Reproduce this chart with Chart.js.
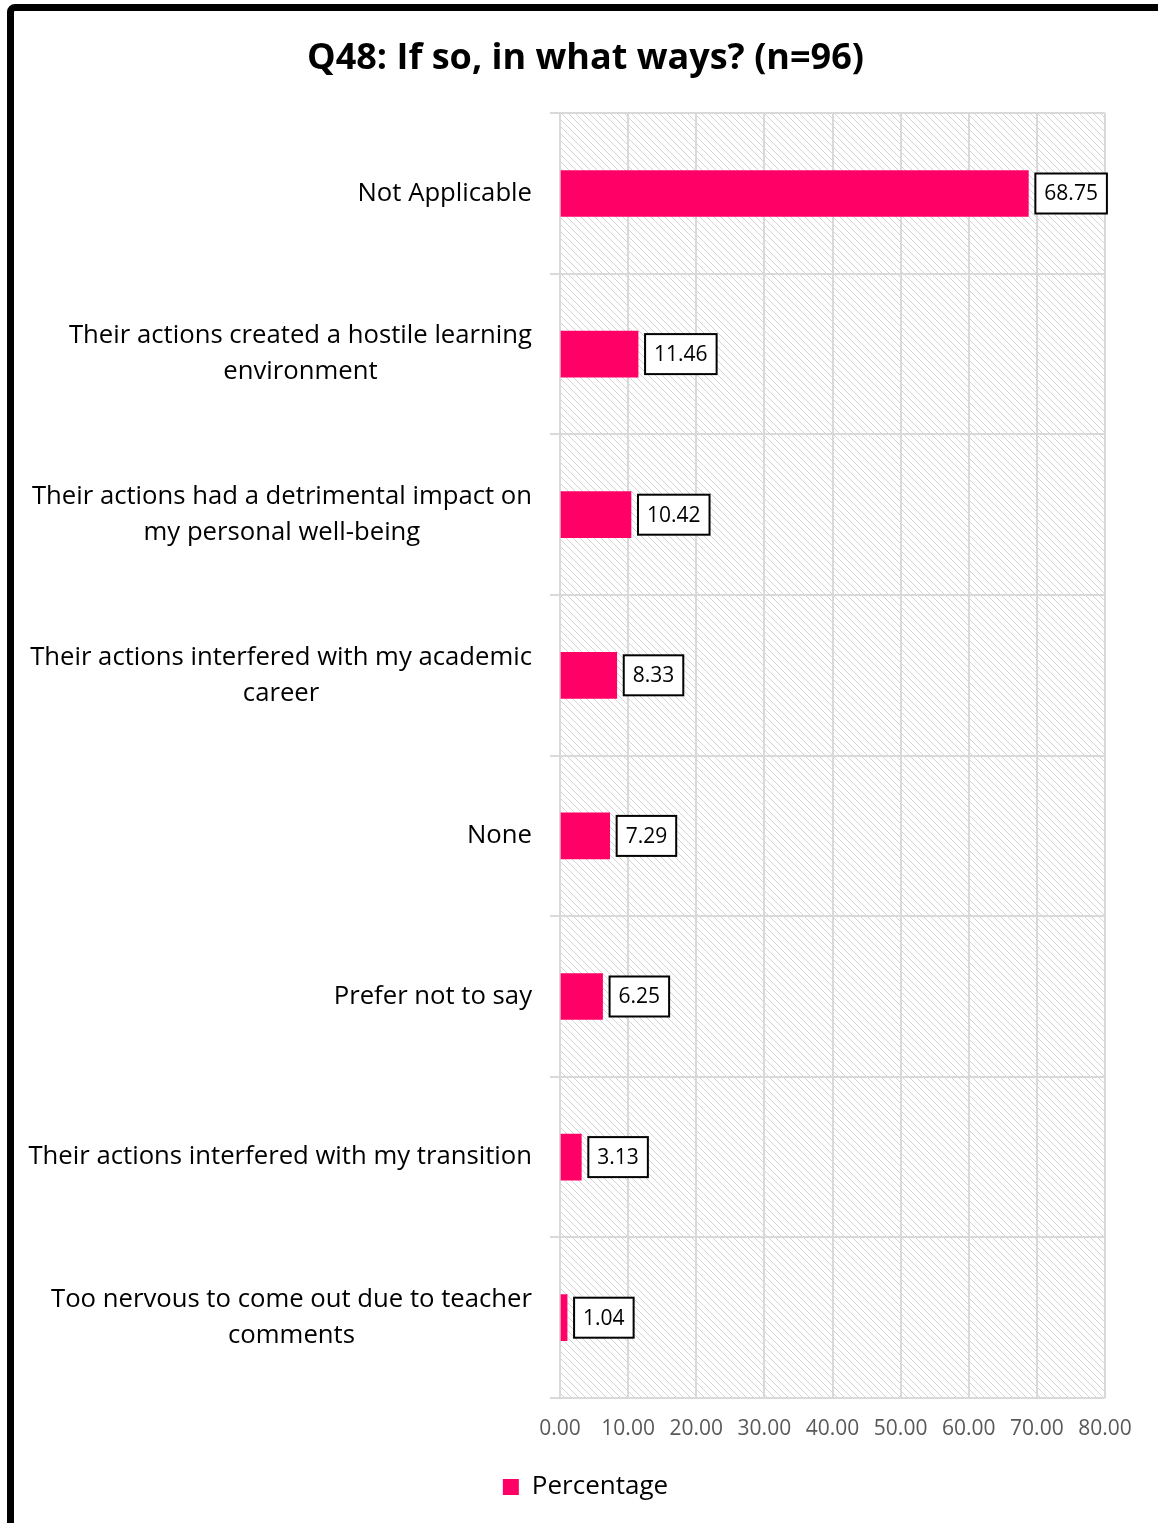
<!DOCTYPE html>
<html>
<head>
<meta charset="utf-8">
<script src="https://cdn.jsdelivr.net/npm/chart.js@4"></script>
<style>
    html, body { margin: 0; padding: 0; background: #fff; overflow: hidden; }
    #wrap { position: relative; width: 1158px; height: 1523px; }
    #frame {
        position: absolute; left: 7px; top: 4px; width: 1300px; height: 1700px;
        border: 7px solid #000; border-radius: 8px; box-sizing: border-box; pointer-events: none;
    }
</style>
</head>
<body>
<div id="wrap">
    <canvas id="chart"></canvas>
    <div id="frame"></div>
</div>
<script>
// chart data
const categories = [
    ['Not Applicable'],
    ['Their actions created a hostile learning', 'environment'],
    ['Their actions had a detrimental impact on', 'my personal well-being'],
    ['Their actions interfered with my academic', 'career'],
    ['None'],
    ['Prefer not to say'],
    ['Their actions interfered with my transition'],
    ['Too nervous to come out due to teacher', 'comments']
];
const percentages = [68.75, 11.46, 10.42, 8.33, 7.29, 6.25, 3.13, 1.04];
const xTicks = [0, 10, 20, 30, 40, 50, 60, 70, 80];

const FONT = "'Open Sans', sans-serif";
const PINK = '#FF0066';
const GRID = '#d9d9d9';

// diagonal hatch behind the plot area
function makeHatch() {
    const c = document.createElement('canvas');
    c.width = 7; c.height = 7;
    const g = c.getContext('2d');
    g.fillStyle = '#fff';
    g.fillRect(0, 0, 7, 7);
    g.fillStyle = '#d4d4d4';
    for (let i = 0; i < 7; i++) g.fillRect(i, i, 1, 1);
    return g.createPattern(c, 'repeat');
}

const hatchPlugin = {
    id: 'hatch',
    beforeDraw(chart) {
        const { ctx, chartArea: a } = chart;
        ctx.save();
        ctx.fillStyle = makeHatch();
        ctx.fillRect(a.left, a.top, a.right - a.left, a.bottom - a.top);
        ctx.restore();
    }
};

// category labels, lines centred inside a right aligned block
const catLabelPlugin = {
    id: 'catLabels',
    afterDraw(chart) {
        const { ctx } = chart;
        const y = chart.scales.y;
        const right = chart.chartArea.left - 28;
        ctx.save();
        ctx.font = '25.7px ' + FONT;
        ctx.fillStyle = '#000';
        ctx.textBaseline = 'middle';
        ctx.textAlign = 'center';
        const lh = 36;
        categories.forEach((lines, i) => {
            const cy = y.getPixelForValue(i);
            const w = Math.max(...lines.map(l => ctx.measureText(l).width));
            const cx = right - w / 2;
            lines.forEach((l, j) => {
                ctx.fillText(l, cx, cy + (j - (lines.length - 1) / 2) * lh);
            });
        });
        ctx.restore();
    }
};

// boxed value labels at the bar ends
const valueLabelPlugin = {
    id: 'valueLabels',
    afterDatasetsDraw(chart) {
        const { ctx } = chart;
        const meta = chart.getDatasetMeta(0);
        ctx.save();
        ctx.font = '21px ' + FONT;
        ctx.textBaseline = 'middle';
        ctx.textAlign = 'left';
        meta.data.forEach((bar, i) => {
            const txt = percentages[i].toFixed(2);
            const tw = ctx.measureText(txt).width;
            const bx = bar.x + 7;
            const bw = tw + 18;
            const bh = 40;
            ctx.fillStyle = '#fff';
            ctx.fillRect(bx, bar.y - bh / 2, bw, bh);
            ctx.strokeStyle = '#000';
            ctx.lineWidth = 2;
            ctx.strokeRect(bx, bar.y - bh / 2, bw, bh);
            ctx.fillStyle = '#000';
            ctx.fillText(txt, bx + 9, bar.y + 1);
        });
        ctx.restore();
    }
};

const ctx = document.getElementById('chart').getContext('2d');
new Chart(ctx, {
    type: 'bar',
    data: {
        labels: categories.map(c => c.join(' ')),
        datasets: [{
            label: 'Percentage',
            data: percentages,
            backgroundColor: PINK,
            borderWidth: 0,
            barThickness: 46
        }]
    },
    options: {
        indexAxis: 'y',
        responsive: true,
        maintainAspectRatio: false,
        animation: false,
        layout: { padding: { left: 66, right: 53, top: 0, bottom: 13 } },
        scales: {
            x: {
                min: 0,
                max: 80,
                afterBuildTicks: s => { s.ticks = xTicks.map(v => ({ value: v })); },
                afterFit: s => { s.height = 66; },
                grid: { color: GRID, lineWidth: 2, drawTicks: false },
                border: { display: false },
                ticks: {
                    padding: 18,
                    color: '#595959',
                    font: { family: FONT, size: 21 },
                    callback: v => Number(v).toFixed(2)
                }
            },
            y: {
                afterFit: s => { s.width = 494; },
                grid: { color: GRID, lineWidth: 2, tickLength: 10 },
                border: { color: GRID, width: 2 },
                ticks: { display: false }
            }
        },
        plugins: {
            title: {
                display: true,
                text: 'Q48: If so, in what ways? (n=96)',
                color: '#000',
                font: { family: FONT, size: 36, weight: 'bold' },
                padding: { top: 37, bottom: 33 }
            },
            legend: {
                position: 'bottom',
                labels: {
                    color: '#000',
                    boxWidth: 16,
                    boxHeight: 16,
                    padding: 10,
                    font: { family: FONT, size: 26 }
                }
            },
            tooltip: { enabled: false }
        }
    },
    plugins: [hatchPlugin, catLabelPlugin, valueLabelPlugin]
});
</script>
</body>
</html>
